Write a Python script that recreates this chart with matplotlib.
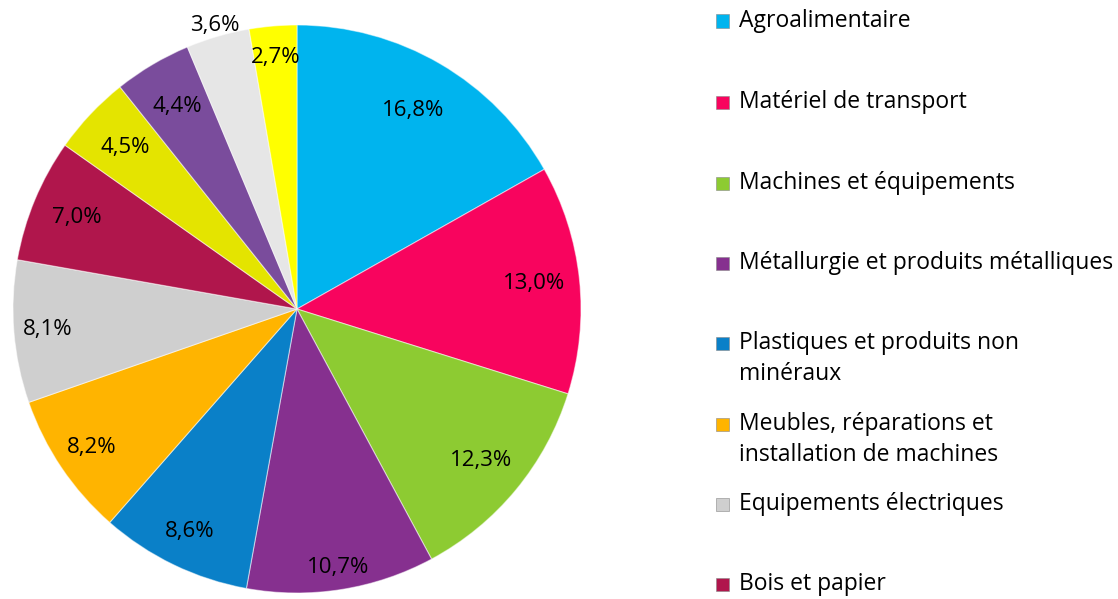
import matplotlib
matplotlib.use("Agg")
import matplotlib.pyplot as plt
import numpy as np
from matplotlib.patches import Rectangle

plt.rcParams['font.family'] = ['Open Sans', 'DejaVu Sans']

values = [16.8, 13.0, 12.3, 10.7, 8.6, 8.2, 8.1, 7.0, 4.5, 4.4, 3.6, 2.7]
labels_pct = ["16,8%", "13,0%", "12,3%", "10,7%", "8,6%", "8,2%", "8,1%", "7,0%",
              "4,5%", "4,4%", "3,6%", "2,7%"]
colors = ["#00B4EE", "#F8045E", "#8DCB32", "#86308F", "#0A80C8", "#FFB400",
          "#CFCFCF", "#B0164C", "#E4E400", "#7A4C9C", "#E6E6E6", "#FFFF00"]
legend_labels = ["Agroalimentaire", "Matériel de transport", "Machines et équipements",
                 "Métallurgie et produits métalliques", "Plastiques et produits non\nminéraux",
                 "Meubles, réparations et\ninstallation de machines", "Equipements électriques",
                 "Bois et papier"]

W, H = 1118, 599
fig = plt.figure(figsize=(W / 100, H / 100), dpi=100)
cx, cy, r = 297, 309, 284
ax = fig.add_axes([(cx - r) / W, (H - cy - r) / H, 2 * r / W, 2 * r / H])
wedges, _ = ax.pie(values, colors=colors, startangle=90, counterclock=False,
                   wedgeprops=dict(linewidth=0.8, edgecolor=(1, 1, 1, 0.5)))
ax.set_xlim(-1, 1)
ax.set_ylim(-1, 1)
ax.set_aspect('equal')
ax.axis('off')

dists = [0.81, 0.84, 0.84, 0.92, 0.87, 0.87, 0.88, 0.84, 0.83, 0.83, 1.04, 0.89]
for w, lab, d in zip(wedges, labels_pct, dists):
    ang = np.deg2rad((w.theta1 + w.theta2) / 2)
    ax.text(d * np.cos(ang), d * np.sin(ang), lab, ha='center', va='center',
            fontsize=16, color='black')

# legend (manual layout)
ys = [21, 102, 183, 263, 343, 424, 504, 584]
for col, lab, y in zip(colors[:8], legend_labels, ys):
    fig.patches.append(Rectangle((716 / W, (H - y - 6.5) / H), 13 / W, 13 / H,
                                 transform=fig.transFigure, facecolor=col,
                                 edgecolor='#888888', linewidth=0.4))
    for i, line in enumerate(lab.split('\n')):
        fig.text(739 / W, (H - y - 31 * i) / H, line, ha='left', va='center',
                 fontsize=16.5)

fig.savefig("out.png", dpi=100)
